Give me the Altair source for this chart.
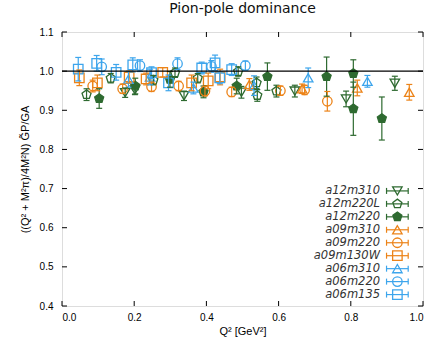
import altair as alt
import pandas as pd

series = ["a12m310", "a12m220L", "a12m220", "a09m310", "a09m220",
          "a09m130W", "a06m310", "a06m220", "a06m135"]

GREEN = "#2e6a30"
ORANGE = "#ec8318"
BLUE = "#3da5ec"
colors = [GREEN, GREEN, GREEN, ORANGE, ORANGE, ORANGE, BLUE, BLUE, BLUE]
PENT = "M0,-1L0.951,-0.309L0.588,0.809L-0.588,0.809L-0.951,-0.309Z"
shapes = ["triangle-down", PENT, PENT, "triangle-up", "circle", "square",
          "triangle-up", "circle", "square"]
fills = ["transparent", "transparent", GREEN, "transparent", "transparent",
         "transparent", "transparent", "transparent", "transparent"]

# data: Q^2, ratio, error
a12m310_q = [0.175, 0.202, 0.338, 0.497, 0.645, 0.787, 0.922]
a12m310_r = [0.945, 0.952, 0.937, 0.946, 0.949, 0.929, 0.969]
a12m310_e = [0.012, 0.012, 0.012, 0.015, 0.015, 0.020, 0.018]

a12m220L_q = [0.068, 0.135, 0.253, 0.313, 0.376, 0.488, 0.539, 0.541, 0.594]
a12m220L_r = [0.940, 0.982, 0.977, 0.996, 0.982, 0.999, 0.970, 0.938, 0.949]
a12m220L_e = [0.015, 0.012, 0.012, 0.012, 0.012, 0.012, 0.015, 0.015, 0.015]

a12m220_q = [0.103, 0.203, 0.299, 0.392, 0.484, 0.569, 0.733, 0.807, 0.807, 0.886]
a12m220_r = [0.930, 0.962, 0.979, 0.947, 0.962, 0.986, 0.986, 0.994, 0.904, 0.879]
a12m220_e = [0.025, 0.020, 0.020, 0.015, 0.020, 0.035, 0.050, 0.035, 0.068, 0.055]

a09m310_q = [0.519, 0.665, 0.818, 0.962]
a09m310_r = [0.966, 0.955, 0.957, 0.946]
a09m310_e = [0.015, 0.012, 0.020, 0.020]

a09m220_q = [0.085, 0.168, 0.248, 0.323, 0.396, 0.470, 0.605, 0.672, 0.735]
a09m220_r = [0.962, 0.955, 0.960, 0.962, 0.949, 0.947, 0.950, 0.952, 0.923]
a09m220_e = [0.015, 0.012, 0.012, 0.012, 0.012, 0.012, 0.012, 0.012, 0.025]

a09m130W_q = [0.048, 0.098, 0.186, 0.233, 0.279, 0.359, 0.405, 0.438]
a09m130W_r = [0.983, 0.970, 0.985, 0.980, 0.997, 0.970, 0.975, 0.985]
a09m130W_e = [0.020, 0.020, 0.015, 0.015, 0.012, 0.020, 0.020, 0.020]

a06m310_q = [0.184, 0.244, 0.364, 0.532, 0.682, 0.846]
a06m310_r = [0.979, 0.985, 0.957, 0.963, 0.983, 0.974]
a06m310_e = [0.020, 0.020, 0.015, 0.025, 0.025, 0.015]

a06m220_q = [0.110, 0.216, 0.320, 0.414, 0.508]
a06m220_r = [1.011, 1.014, 1.019, 1.012, 1.014]
a06m220_e = [0.020, 0.015, 0.015, 0.015, 0.012]

a06m135_q = [0.045, 0.096, 0.150, 0.196, 0.248, 0.295, 0.387, 0.424, 0.437, 0.470]
a06m135_r = [1.005, 1.020, 0.997, 1.016, 0.996, 0.970, 1.008, 1.021, 0.983, 1.004]
a06m135_e = [0.030, 0.020, 0.020, 0.018, 0.015, 0.020, 0.015, 0.020, 0.015, 0.015]

x_ticks = [0.0, 0.2, 0.4, 0.6, 0.8, 1.0]
y_ticks = [0.4, 0.5, 0.6, 0.7, 0.8, 0.9, 1.0, 1.1]

raw = {
    "a12m310": (a12m310_q, a12m310_r, a12m310_e),
    "a12m220L": (a12m220L_q, a12m220L_r, a12m220L_e),
    "a12m220": (a12m220_q, a12m220_r, a12m220_e),
    "a09m310": (a09m310_q, a09m310_r, a09m310_e),
    "a09m220": (a09m220_q, a09m220_r, a09m220_e),
    "a09m130W": (a09m130W_q, a09m130W_r, a09m130W_e),
    "a06m310": (a06m310_q, a06m310_r, a06m310_e),
    "a06m220": (a06m220_q, a06m220_r, a06m220_e),
    "a06m135": (a06m135_q, a06m135_r, a06m135_e),
}
rows = []
for s in series:
    q, r, e = raw[s]
    for qi, ri, ei in zip(q, r, e):
        rows.append({"series": s, "q": qi, "r": ri, "lo": ri - ei, "hi": ri + ei})
df = pd.DataFrame(rows)

# legend layout (in data coordinates of the fixed axes)
leg_top = 0.694
leg_step = 0.0331
leg = pd.DataFrame({
    "series": series,
    "y": [leg_top - i * leg_step for i in range(len(series))],
    "xt": 0.881, "xs": 0.929, "x1": 0.899, "x2": 0.959,
})

W, H = 361, 274
FONT = "DejaVu Sans"
xs = alt.Scale(domain=[0, 1], nice=False, zero=False)
ys = alt.Scale(domain=[0.4, 1.1], nice=False, zero=False)
xax = alt.Axis(values=x_ticks, format=".1f", grid=False, ticks=False,
               domain=False, labelPadding=6, title="Q² [GeV²]",
               titlePadding=3, labelOverlap=False, titleFontWeight="normal")
yax = alt.Axis(values=y_ticks, format=".1f", grid=False, ticks=False,
               domain=False, labelPadding=9, labelOverlap=False,
               title="((Q² + M²π)/4M²N) G̃P/GA", titlePadding=9,
               titleFontWeight="normal")


def XE(f):
    return alt.X(f, scale=xs, axis=xax)


def YE(f):
    return alt.Y(f, scale=ys, axis=yax)


col = alt.Color("series:N", scale=alt.Scale(domain=series, range=colors), legend=None)
stk = alt.Stroke("series:N", scale=alt.Scale(domain=series, range=colors), legend=None)
shp = alt.Shape("series:N", scale=alt.Scale(domain=series, range=shapes), legend=None)
fil = alt.Fill("series:N", scale=alt.Scale(domain=series, range=fills), legend=None)

base = alt.Chart(df)
vbar = base.mark_rule(strokeWidth=1.2).encode(
    x=XE("q:Q"), y=YE("lo:Q"), y2="hi:Q", color=col)
cap_lo = base.mark_rule(strokeWidth=1.2, xOffset=-3, x2Offset=3).encode(
    x=XE("q:Q"), x2="q:Q", y=YE("lo:Q"), color=col)
cap_hi = base.mark_rule(strokeWidth=1.2, xOffset=-3, x2Offset=3).encode(
    x=XE("q:Q"), x2="q:Q", y=YE("hi:Q"), color=col)
pts = base.mark_point(size=90, strokeWidth=1.3, opacity=1).encode(
    x=XE("q:Q"), y=YE("r:Q"), shape=shp, fill=fil, stroke=stk)

one = alt.Chart(pd.DataFrame({"v": [1.0]})).mark_rule(
    color="black", strokeWidth=1.2).encode(y=YE("v:Q"))

xt_df = pd.DataFrame({"t": x_ticks})
yt_df = pd.DataFrame({"t": y_ticks})
tk = dict(color="black", strokeWidth=1)
xt_bot = alt.Chart(xt_df).mark_rule(**tk).encode(
    x=XE("t:Q"), y=alt.value(H), y2=alt.value(H - 5))
xt_top = alt.Chart(xt_df).mark_rule(**tk).encode(
    x=XE("t:Q"), y=alt.value(0), y2=alt.value(5))
yt_l = alt.Chart(yt_df).mark_rule(**tk).encode(
    y=YE("t:Q"), x=alt.value(0), x2=alt.value(5))
yt_r = alt.Chart(yt_df).mark_rule(**tk).encode(
    y=YE("t:Q"), x=alt.value(W), x2=alt.value(W - 5))

lb = alt.Chart(leg)
leg_text = lb.mark_text(align="right", baseline="middle", fontSize=11.5,
                        font=FONT, fontStyle="italic", color="#333333").encode(
    x=XE("xt:Q"), y=YE("y:Q"), text="series:N")
leg_line = lb.mark_rule(strokeWidth=1.2).encode(
    x=XE("x1:Q"), x2="x2:Q", y=YE("y:Q"), color=col)
leg_c1 = lb.mark_rule(strokeWidth=1.2, yOffset=-3, y2Offset=3).encode(
    x=XE("x1:Q"), y=YE("y:Q"), y2="y:Q", color=col)
leg_c2 = lb.mark_rule(strokeWidth=1.2, yOffset=-3, y2Offset=3).encode(
    x=XE("x2:Q"), y=YE("y:Q"), y2="y:Q", color=col)
leg_pt = lb.mark_point(size=90, strokeWidth=1.3, opacity=1).encode(
    x=XE("xs:Q"), y=YE("y:Q"), shape=shp, fill=fil, stroke=stk)

chart = alt.layer(
    pts, vbar, cap_lo, cap_hi, one, xt_bot, xt_top, yt_l, yt_r,
    leg_line, leg_c1, leg_c2, leg_pt, leg_text
).properties(
    width=W, height=H,
    title=alt.Title("Pion-pole dominance", fontSize=14, font=FONT,
                    fontWeight="normal", color="#111111", offset=11),
    autosize=alt.AutoSizeParams(type="none"),
    padding={"left": 62, "top": 32, "right": 11, "bottom": 40},
).configure_view(
    stroke="black", strokeWidth=1.2
).configure_axis(
    labelFont=FONT, labelFontSize=11.5, labelColor="#333333",
    titleFont=FONT, titleFontSize=13.5, titleColor="#222222",
    titleFontWeight="normal"
).configure(background="white")

chart.save("out.html", embed_options={"renderer": "svg", "actions": False})
